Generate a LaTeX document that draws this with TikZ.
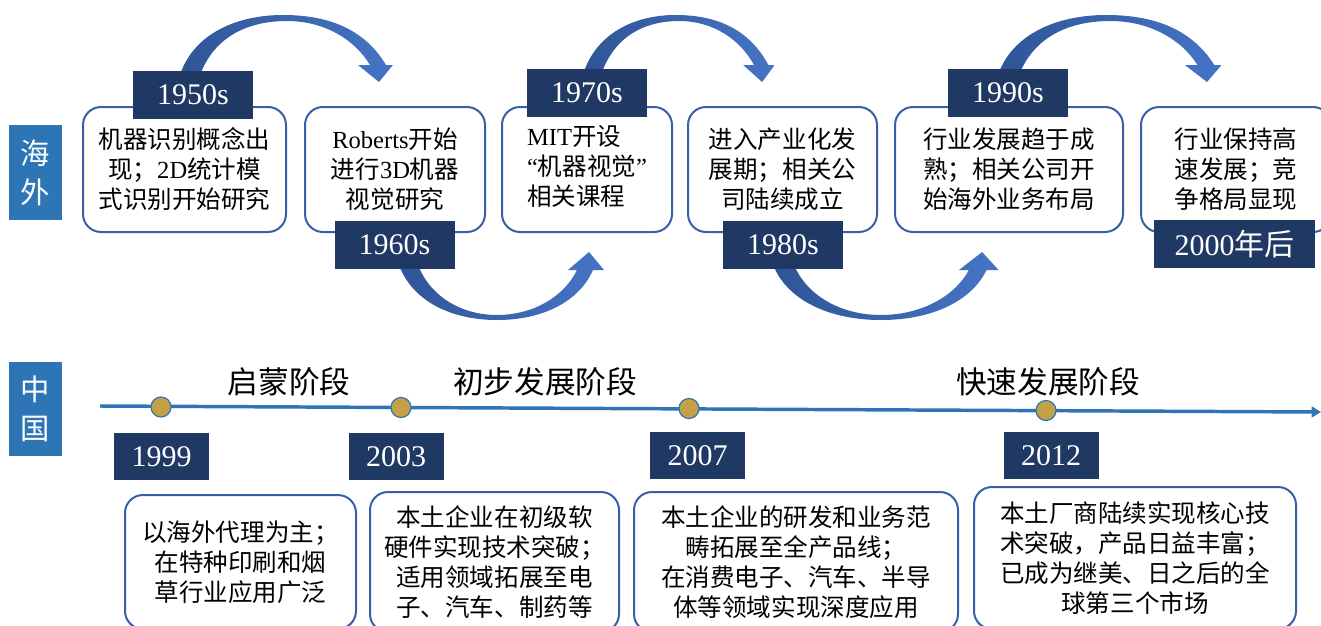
\documentclass[tikz,border=0pt]{standalone}
\usepackage{fontspec}
\setmainfont{Noto Sans CJK SC}
\newfontfamily\lat{Liberation Serif}
\usetikzlibrary{arrows.meta}
\definecolor{labelblue}{RGB}{46,117,182}
\definecolor{navy}{RGB}{31,56,100}
\definecolor{boxblue}{RGB}{56,96,170}
\definecolor{arrdark}{RGB}{47,85,151}
\definecolor{arrlight}{RGB}{70,116,198}
\definecolor{gold}{RGB}{196,160,70}
\definecolor{lineblue}{RGB}{46,117,182}
\newcommand{\toparc}{%
  (20,75) .. controls (35,35) and (70,21) .. (107,21)
  .. controls (145,21) and (175,40) .. (190,65)
  -- (178,65) -- (199,82) -- (213,65) -- (206,65)
  .. controls (185,30) and (150,15) .. (103,15)
  .. controls (55,15) and (13,35) .. (0,75) -- cycle}
\newcommand{\botarc}{%
  (0,262) .. controls (12,300) and (52,320) .. (99,320)
  .. controls (147,320) and (182,300) .. (195,270)
  -- (206,270) -- (191,252) -- (170,270) -- (179,270)
  .. controls (167,295) and (137,315) .. (99,315)
  .. controls (62,315) and (30,295) .. (19,262) -- cycle}
\begin{document}
\begin{tikzpicture}[x=0.75pt,y=-0.75pt,
  tbox/.style={draw=boxblue, line width=1.5pt, rounded corners=13.5pt, fill=white,
    align=center, inner sep=0pt, font=\fontsize{18.4}{22.5}\selectfont},
  yearbox/.style={fill=navy, text=white, inner sep=0pt,
    font=\lat\fontsize{22.5}{24}\selectfont, minimum width=90pt, minimum height=36pt},
  byear/.style={yearbox, minimum width=71.25pt, minimum height=35.25pt},
  stage/.style={font=\fontsize{23}{26}\selectfont, inner sep=0pt},
  side/.style={fill=labelblue, text=white, align=center, inner sep=0pt,
    font=\fontsize{22}{29}\selectfont, minimum width=39.75pt},
  dot/.style={circle, fill=gold, draw=lineblue, line width=0.9pt, minimum size=15pt, inner sep=0pt},
  arr/.style={left color=arrdark, right color=arrlight}
]
\useasboundingbox (0,0) rectangle (1321,625);
\fill[white] (0,0) rectangle (1321,625);

% curved arrows
\begin{scope}[shift={(180,0)}]
  \shade[arr] \toparc;
\end{scope}
\begin{scope}[shift={(583,0)}, xscale=0.9]
  \shade[arr] \toparc;
\end{scope}
\begin{scope}[shift={(998,0)}, xscale=1.05]
  \shade[arr] \toparc;
\end{scope}
\begin{scope}[shift={(398,0)}]
  \shade[arr] \botarc;
\end{scope}
\begin{scope}[shift={(772,0)}, xscale=1.1]
  \shade[arr] \botarc;
\end{scope}

% side labels
\node[side, minimum height=71.25pt] (hw) at (35.5,172.5) {海\\外};
\node[side, minimum height=70.5pt] (zg) at (35.5,409) {中\\国};

% top boxes
\node[tbox, minimum width=152.25pt, minimum height=93.75pt] (b1) at (184.5,169.5)
  {机器识别概念出\\现；{\lat 2D}统计模\\式识别开始研究};
\node[tbox, minimum width=135pt, minimum height=93.75pt] (b2) at (395,169.5)
  {{\lat Roberts}开始\\进行{\lat 3D}机器\\视觉研究};
\node[tbox, minimum width=127.5pt, minimum height=93.75pt] (b3) at (587,169.5)
  {\begin{tabular}{@{}l@{}}{\lat MIT}开设\\{\lat “}机器视觉{\lat ”}\\相关课程\end{tabular}};
\node[tbox, minimum width=141.75pt, minimum height=93.75pt] (b4) at (782.5,169.5)
  {进入产业化发\\展期；相关公\\司陆续成立};
\node[tbox, minimum width=171pt, minimum height=93.75pt] (b5) at (1009,169.5)
  {行业发展趋于成\\熟；相关公司开\\始海外业务布局};
\node[tbox, minimum width=142.5pt, minimum height=93.75pt] (b6) at (1236,169.5)
  {行业保持高\\速发展；竞\\争格局显现};

% top year labels
\node[yearbox] (y1) at (193,95) {1950s};
\node[yearbox] (y2) at (394.5,245) {1960s};
\node[yearbox] (y3) at (587,93) {1970s};
\node[yearbox] (y4) at (783,245) {1980s};
\node[yearbox] (y5) at (1008,93) {1990s};
\node[yearbox, minimum width=120.75pt] (y6) at (1234.5,244) {2000{\fontspec{Noto Sans CJK SC}年后}};

% timeline
\coordinate (t0) at (100,406);
\coordinate (t1) at (1321,412);
\draw[lineblue, line width=2.6pt, -{Triangle[length=7pt,width=8pt]}] (t0) -- (t1);
\node[dot] (d1) at (161,407) {};
\node[dot] (d2) at (401,407.5) {};
\node[dot] (d3) at (689,408.5) {};
\node[dot] (d4) at (1046,410.5) {};

% stages
\node[stage] (s1) at (289,382) {启蒙阶段};
\node[stage] (s2) at (545,382) {初步发展阶段};
\node[stage] (s3) at (1048,382) {快速发展阶段};

% bottom years
\node[byear] (z1) at (161.5,456.5) {1999};
\node[byear] (z2) at (396,456.5) {2003};
\node[byear] (z3) at (697.5,455.5) {2007};
\node[byear] (z4) at (1051,455.5) {2012};

% bottom boxes
\node[tbox, minimum width=173.25pt, minimum height=100.5pt] (c1) at (240.5,562)
  {以海外代理为主；\\在特种印刷和烟\\草行业应用广泛};
\node[tbox, minimum width=186.75pt, minimum height=105pt] (c2) at (494.5,562)
  {本土企业在初级软\\硬件实现技术突破；\\适用领域拓展至电\\子、汽车、制药等};
\node[tbox, minimum width=243pt, minimum height=105pt] (c3) at (796,562)
  {本土企业的研发和业务范\\畴拓展至全产品线；\\在消费电子、汽车、半导\\体等领域实现深度应用};
\node[tbox, minimum width=241.5pt, minimum height=106.5pt] (c4) at (1135,558)
  {本土厂商陆续实现核心技\\术突破，产品日益丰富；\\已成为继美、日之后的全\\球第三个市场};
\end{tikzpicture}
\end{document}
